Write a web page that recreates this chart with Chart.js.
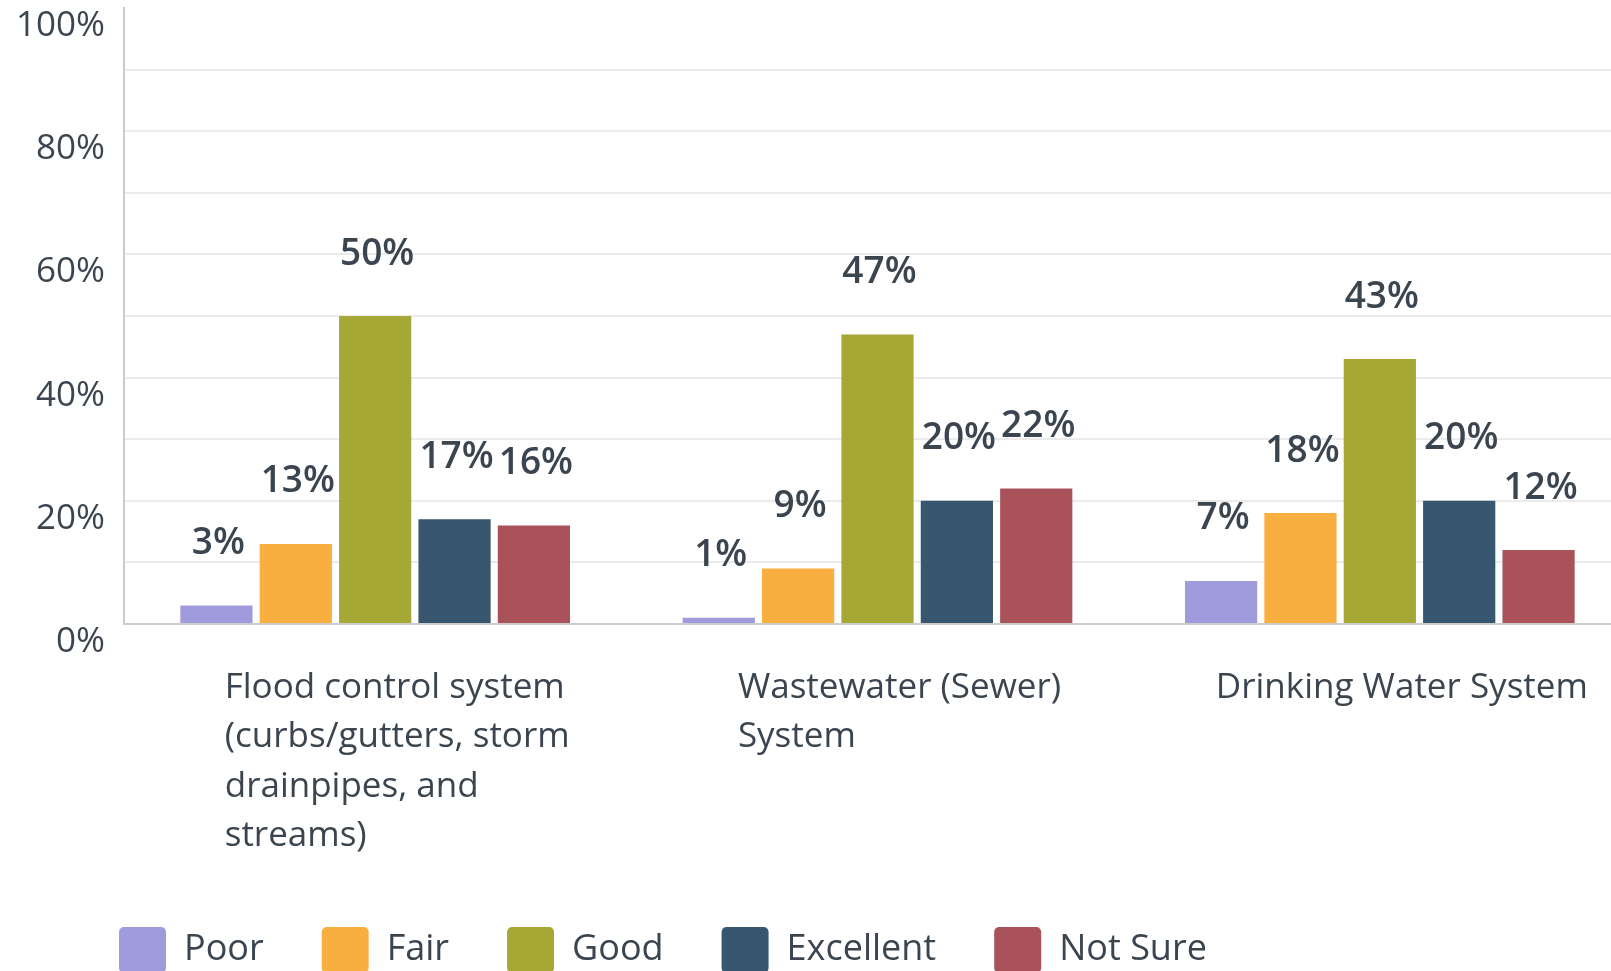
<!DOCTYPE html>
<html>
<head>
<meta charset="utf-8">
<script src="https://cdn.jsdelivr.net/npm/chart.js@4"></script>
<style>
  html, body { margin: 0; padding: 0; background: #fff; overflow: hidden; }
  #wrap { position: relative; width: 1631px; height: 983px; }
</style>
</head>
<body>
<div id="wrap"><canvas id="chart"></canvas></div>
<script>
// data
const categories = [
    ['Flood control system', '(curbs/gutters, storm', 'drainpipes, and', 'streams)'],
    ['Wastewater (Sewer)', 'System'],
    ['Drinking Water System']
];
const seriesNames = ['Poor', 'Fair', 'Good', 'Excellent', 'Not Sure'];
const poor = [3, 1, 7];
const fair = [13, 9, 18];
const good = [50, 47, 43];
const excellent = [17, 20, 20];
const notSure = [16, 22, 12];
const yTicks = [0, 20, 40, 60, 80, 100];

const colors = ['#A09BDC', '#F9AF40', '#A6A836', '#37566F', '#A9525A'];
const textColor = '#3b4550';
const FONT = "'Open Sans', 'DejaVu Sans', sans-serif";

const seriesValues = [poor, fair, good, excellent, notSure];

/**
 * Value labels above bars
 */
const valueLabels = {
    id: 'valueLabels',
    afterDatasetsDraw(chart) {
        const ctx = chart.ctx;
        ctx.save();
        ctx.font = '600 37px ' + FONT;
        ctx.fillStyle = textColor;
        ctx.textAlign = 'center';
        ctx.textBaseline = 'middle';
        chart.data.datasets.forEach((ds, di) => {
            chart.getDatasetMeta(di).data.forEach((bar, i) => {
                ctx.fillText(ds.data[i] + '%', bar.x + 2, bar.y - 62);
            });
        });
        ctx.restore();
    }
};

/**
 * Category labels: block centred under the group, lines left aligned
 */
const categoryLabels = {
    id: 'categoryLabels',
    afterDraw(chart) {
        const ctx = chart.ctx;
        const xScale = chart.scales.x;
        const lineHeight = 49.3;
        ctx.save();
        ctx.font = '35px ' + FONT;
        ctx.fillStyle = textColor;
        ctx.textAlign = 'left';
        ctx.textBaseline = 'middle';
        chart.data.labels.forEach((lines, i) => {
            const blockWidth = Math.max(...lines.map(l => ctx.measureText(l).width));
            const left = xScale.getPixelForTick(i) + 22 - blockWidth / 2;
            lines.forEach((line, j) => {
                ctx.fillText(line, left, xScale.top + 64 + j * lineHeight);
            });
        });
        ctx.restore();
    }
};

/**
 * The y labels stick out left of the axis box; widen its clip area
 */
const yLabelRoom = {
    id: 'yLabelRoom',
    afterLayout(chart) {
        chart.scales.y.left = 0;
    }
};

new Chart(document.getElementById('chart'), {
    type: 'bar',
    data: {
        labels: categories,
        datasets: seriesNames.map((name, i) => ({
            label: name,
            data: seriesValues[i],
            backgroundColor: colors[i],
            borderWidth: 0,
            categoryPercentage: 0.79,
            barPercentage: 0.91
        }))
    },
    options: {
        responsive: true,
        maintainAspectRatio: false,
        animation: false,
        layout: {
            padding: { left: 61, top: 8, right: 0, bottom: 0 }
        },
        plugins: {
            legend: {
                position: 'bottom',
                align: 'start',
                labels: {
                    boxWidth: 47,
                    boxHeight: 46,
                    padding: 58,
                    color: textColor,
                    useBorderRadius: true,
                    borderRadius: 5,
                    font: { family: FONT, size: 36 }
                }
            },
            tooltip: { enabled: false }
        },
        scales: {
            x: {
                grid: { display: false },
                border: { display: true, color: '#cccccc', width: 2 },
                ticks: { display: false },
                afterFit(scale) {
                    scale.height = 245;
                    scale.paddingLeft = 0;
                    scale.paddingRight = 0;
                }
            },
            y: {
                min: 0,
                max: 100,
                grid: {
                    drawTicks: false,
                    lineWidth: 2,
                    color: (c) => (c.tick && (c.tick.value === 100 || c.tick.value === 0)) ? 'rgba(0,0,0,0)' : '#ebebeb'
                },
                border: { display: true, color: '#cccccc', width: 2 },
                ticks: {
                    stepSize: 10,
                    padding: 19,
                    labelOffset: 18,
                    color: textColor,
                    font: { family: FONT, size: 35 },
                    callback: (v) => yTicks.includes(v) ? v + '%' : ''
                },
                afterFit(scale) {
                    scale.width = 63;
                    scale.paddingTop = 0;
                    scale.paddingBottom = 0;
                }
            }
        }
    },
    plugins: [valueLabels, categoryLabels, yLabelRoom]
});
</script>
</body>
</html>
